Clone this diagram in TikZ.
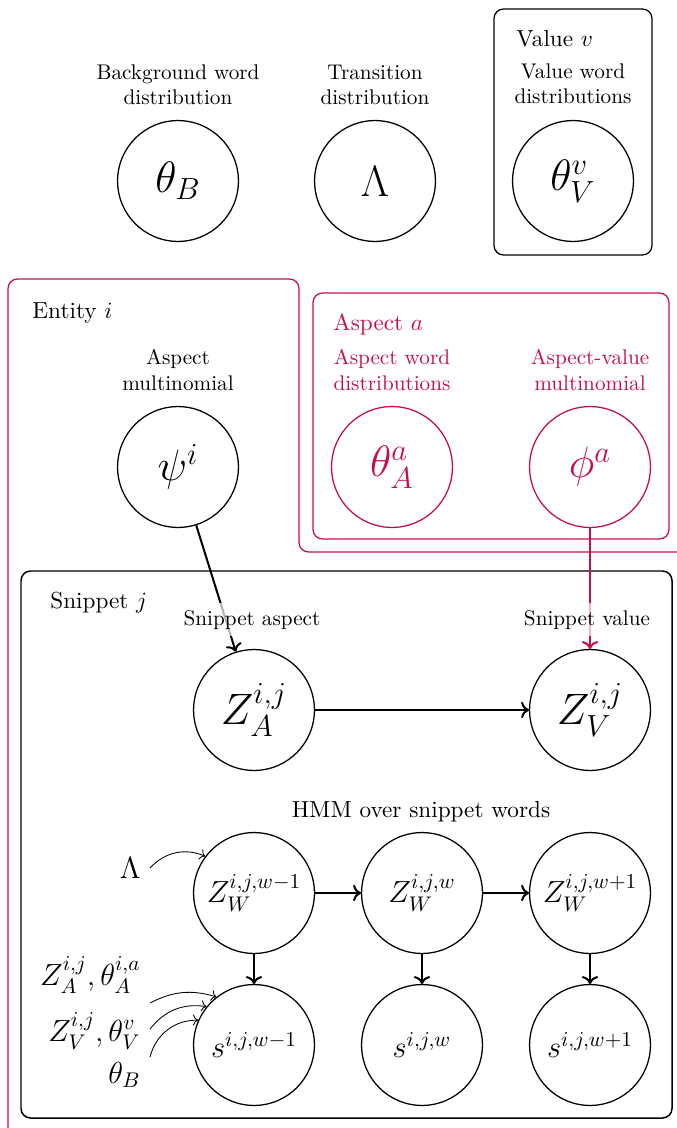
\documentclass[tikz,border=0pt]{standalone}
\usepackage{amsmath}
\usetikzlibrary{arrows.meta}
\definecolor{plate}{RGB}{197,15,75}
\newcommand\platefont{\fontsize{10.95}{13.6}\selectfont}

\begin{document}
\begin{tikzpicture}[x=0.4716pt,y=-0.4716pt,
  var/.style={circle,draw,line width=0.6pt,minimum size=57pt,inner sep=0pt},
  hugevar/.style={var,font=\huge},
  smallvar/.style={var,font=\Large},
  caption/.style={align=center,anchor=base,font=\normalsize},
  platelabel/.style={anchor=base west,font=\platefont,inner sep=0pt},
  platebox/.style={line width=0.6pt,rounded corners=4.5pt},
  dep/.style={->,line width=0.95pt},
  feed/.style={->,line width=0.4pt},
  sidelabel/.style={anchor=base east,font=\Large,inner sep=0pt}
]
\useasboundingbox (0,0) rectangle (677,1128);

% ---------- plates ----------
\draw[platebox] (494,9) rectangle (652,255);
\draw[platebox,plate] (8,1128) -- (8,279) -- (299,279) -- (299,552) -- (677,552);
\draw[platebox,plate] (313,293) rectangle (669,539);
\draw[platebox,line width=0.7pt] (21,571) rectangle (672,1118);

\node[platelabel] (valplate) at (516,47) {Value $v$};
\node[platelabel] (entplate) at (32,318) {Entity $i$};
\node[platelabel,plate] (aspplate) at (333,330) {Aspect $a$};
\node[platelabel] (snipplate) at (50,608) {Snippet $j$};

% ---------- global parameters (captions anchored on their last line) ----------
\node[caption] (cthB) at (178,105) {Background word\\distribution};
\node[caption] (cLam) at (375,105) {Transition\\distribution};
\node[caption] (cthV) at (573,104) {Value word\\distributions};
\node[hugevar] (thB) at (178,181) {$\theta_B$};
\node[hugevar] (Lam) at (375,181) {$\Lambda$};
\node[hugevar] (thV) at (573,181) {$\theta_V^v$};

% ---------- entity and aspect parameters ----------
\node[caption] (cpsi) at (178,390) {Aspect\\multinomial};
\node[hugevar] (psi) at (178,467) {$\psi^i$};
\node[caption,plate] (cthA) at (392,390) {Aspect word\\distributions};
\node[caption,plate] (cphi) at (590,390) {Aspect-value\\multinomial};
\node[hugevar,plate] (thA) at (392,467) {$\theta_A^a$};
\node[hugevar,plate] (phi) at (590,467) {$\phi^a$};

% ---------- snippet variables ----------
\node[hugevar] (ZA) at (254,710) {$Z_A^{i,j}$};
\node[hugevar] (ZV) at (590,710) {$Z_V^{i,j}$};

\node[anchor=base,font=\platefont] (hmm) at (421,817) {HMM over snippet words};
\node[smallvar] (W1) at (254,893) {$Z_W^{i,j,w-1}$};
\node[smallvar] (W2) at (422,893) {$Z_W^{i,j,w}$};
\node[smallvar] (W3) at (590,893) {$Z_W^{i,j,w+1}$};
\node[smallvar] (s1) at (254,1045) {$s^{i,j,w-1}$};
\node[smallvar] (s2) at (422,1045) {$s^{i,j,w}$};
\node[smallvar] (s3) at (590,1045) {$s^{i,j,w+1}$};

% ---------- dependencies ----------
\draw[dep] (psi) -- (ZA);
\draw[dep,plate] (phi) -- (ZV);
\draw[dep] (ZA) -- (ZV);
\draw[dep] (W1) -- (W2);
\draw[dep] (W2) -- (W3);
\draw[dep] (W1) -- (s1);
\draw[dep] (W2) -- (s2);
\draw[dep] (W3) -- (s3);

\node[caption,fill=white,fill opacity=0.7,text opacity=1] (cZA) at (252,625) {Snippet aspect};
\node[caption,fill=white,fill opacity=0.7,text opacity=1] (cZV) at (587,625) {Snippet value};

% ---------- inputs of the word chain ----------
\node[sidelabel] (inLam) at (141,878) {$\Lambda$};
\node[sidelabel] (inA) at (141,985) {$Z_A^{i,j},\theta_A^{i,a}$};
\node[sidelabel] (inV) at (141,1041) {$Z_V^{i,j},\theta_V^v$};
\node[sidelabel] (inB) at (141,1083) {$\theta_B$};

\coordinate (fLam) at (150,868);
\coordinate (fA) at (150,1003);
\coordinate (fV) at (150,1029);
\coordinate (fB) at (150,1057);

\draw[feed] (fLam) to[bend left=35] (W1.143);
\draw[feed] (fA) to[bend left=22] (s1.128);
\draw[feed] (fV) to[bend left=30] (s1.141);
\draw[feed] (fB) to[bend left=38] (s1.156);
\end{tikzpicture}
\end{document}
